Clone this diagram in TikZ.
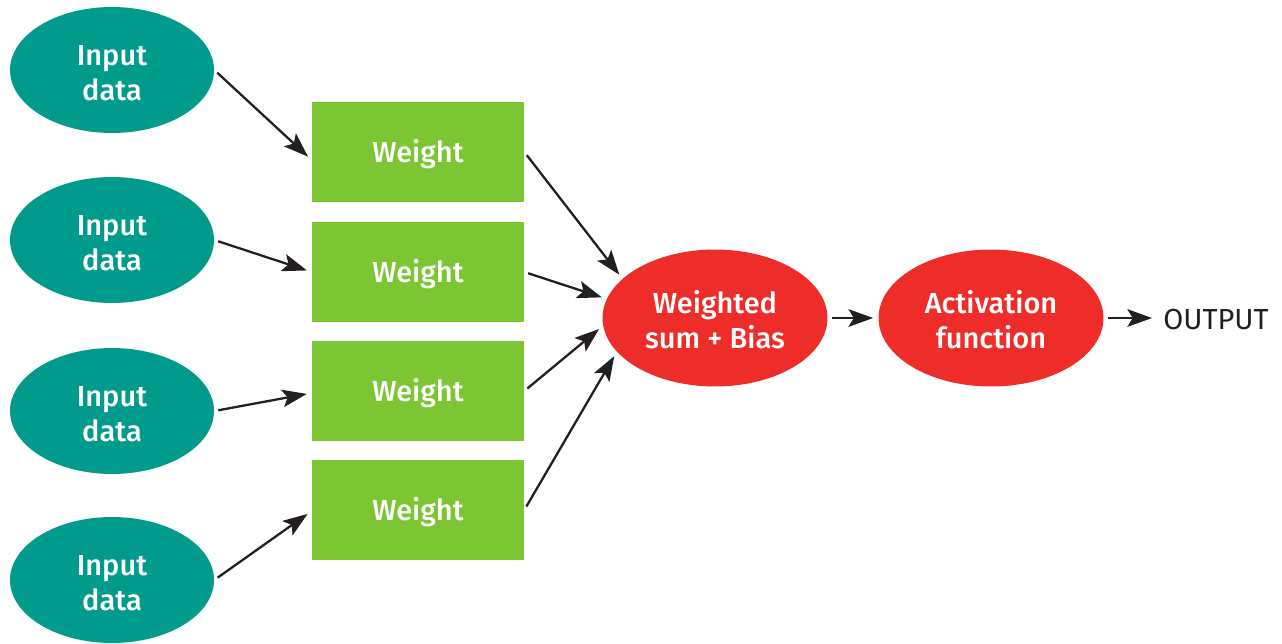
\documentclass[tikz,border=0pt]{standalone}
\usepackage{fontspec}
\setmainfont{Fira Sans}[BoldFont={Fira Sans Medium}]
\usetikzlibrary{shapes.geometric,arrows.meta}
\definecolor{DarkTeal}{RGB}{0,155,141}
\definecolor{LeafGreen}{RGB}{125,198,51}
\definecolor{BrightRed}{RGB}{238,45,42}
\definecolor{ArrowBlack}{RGB}{35,31,32}
\newcommand{\nodeFont}{\bfseries\fontsize{16.5}{19.5}\selectfont}
\newcommand{\topStrut}{\rule{0pt}{15pt}}
\tikzstyle{textNode}=[text=white,inner sep=0pt,align=center,font=\nodeFont]
\tikzstyle{inputNode}=[textNode,ellipse,fill=DarkTeal,minimum width=4.08cm,minimum height=2.52cm]
\tikzstyle{weightBlock}=[textNode,rectangle,fill=LeafGreen,minimum width=4.24cm,minimum height=2.02cm]
\tikzstyle{opNode}=[textNode,ellipse,fill=BrightRed,minimum width=4.5cm,minimum height=2.74cm]
\tikzset{flowArrow/.style={line width=1.3pt, draw=ArrowBlack, arrows={-Stealth[length=14pt,width=10pt,inset=3pt]}, shorten <=0.08cm, shorten >=0.1cm}}

\begin{document}
\begin{tikzpicture}[x=0.02cm,y=-0.02cm]
    \useasboundingbox (0,0) rectangle (1282,643);
    % Input layer
    \node[inputNode] (in1) at (112,70) {\topStrut Input\\data};
    \node[inputNode] (in2) at (112,240) {\topStrut Input\\data};
    \node[inputNode] (in3) at (112,411) {\topStrut Input\\data};
    \node[inputNode] (in4) at (112,580) {\topStrut Input\\data};

    % Weights
    \node[weightBlock] (w1) at (418,152) {\topStrut Weight};
    \node[weightBlock] (w2) at (418,272) {\topStrut Weight};
    \node[weightBlock] (w3) at (418,391) {\topStrut Weight};
    \node[weightBlock] (w4) at (418,510) {\topStrut Weight};
	\draw[flowArrow] (in1.east) -- ([yshift=-0.16cm]w1.west);
	\draw[flowArrow] (in2.east) -- (w2.west);
	\draw[flowArrow] (in3.east) -- ([yshift=-0.04cm]w3.west);
	\draw[flowArrow] (in4.east) -- ([yshift=-0.02cm]w4.west);

    % Sum and activation
    \node[opNode] (sum) at (715,318) {\topStrut Weighted\\sum + Bias};
    \node[opNode] (act) at (991,318) {\topStrut Activation\\function};
    \node[inner sep=0pt,anchor=west,font=\fontsize{16.5}{19.5}\selectfont,text=ArrowBlack] (out) at (1163,320) {OUTPUT};
	\draw[flowArrow] (w1.east) -- (sum.157);
	\draw[flowArrow] (w2.east) -- (sum.170);
	\draw[flowArrow] (w3.east) -- (sum.184);
	\draw[flowArrow] (w4.east) -- (sum.199);
	\draw[flowArrow] (sum.east) -- (act.west);
	\draw[flowArrow, shorten >=0.22cm] (act.east) -- (act.east -| out.west);
\end{tikzpicture}
\end{document}
